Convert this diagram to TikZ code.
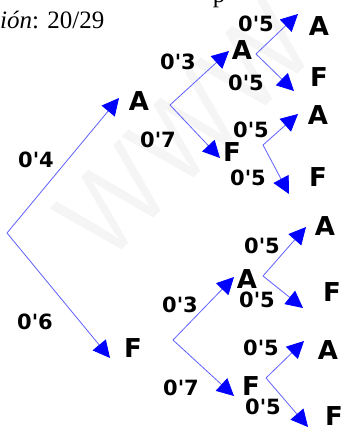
\documentclass[tikz,border=0pt]{standalone}
\usepackage{fontspec}
\setmainfont{Liberation Serif}
\newfontfamily\hand{DejaVu Sans}
\usetikzlibrary{arrows.meta}
\definecolor{ln}{RGB}{95,95,255}
\tikzset{
  br/.style={draw=ln, line width=0.8pt, -{Triangle[length=17pt,width=17pt,color=blue]}},
  lab/.style={font=\hand\bfseries\fontsize{21}{21}\selectfont, inner sep=0pt},
  res/.style={font=\hand\bfseries\fontsize{26}{26}\selectfont, inner sep=0pt},
}
\begin{document}
\begin{tikzpicture}[x=1pt,y=-1pt]
\useasboundingbox (0,0) rectangle (341,435);
\clip (0,0) rectangle (341,435);
% watermark
\node[rotate=45, text=black!4, font=\sffamily\fontsize{115}{115}\selectfont] (wm) at (185,130) {WWW};
% header fragments
\node[anchor=base west, inner sep=0pt, font=\fontsize{25}{25}\selectfont] (hdr) at (0,29) {\textit{ión}: 20/29};
\node[anchor=base, inner sep=0pt, font=\fontsize{25}{25}\selectfont] (hp) at (219,3) {p};
% level 1
\coordinate (r) at (7,233);
\node[res] (A1) at (139,101) {A};
\node[res] (F1) at (133,348) {F};
\coordinate (tA1) at (119,98);
\coordinate (tF1) at (110,358);
\draw[br] (r) -- (tA1);
\draw[br] (r) -- (tF1);
\node[lab] (l1) at (36,160) {0'4};
\node[lab] (l2) at (35,322) {0'6};
% level 2 upper
\coordinate (b1) at (170,105);
\node[res] (A2) at (242,50) {A};
\node[res] (F2) at (232,152) {F};
\coordinate (tA2) at (229,51);
\coordinate (tF2) at (220,158);
\draw[br] (b1) -- (tA2);
\draw[br] (b1) -- (tF2);
\node[lab] (l3) at (178,62) {0'3};
\node[lab] (l4) at (158,140) {0'7};
% level 2 lower
\coordinate (b2) at (173,340);
\node[res] (A3) at (247,279) {A};
\node[res] (F3) at (251,386) {F};
\coordinate (tA3) at (234,277);
\coordinate (tF3) at (234,396);
\draw[br] (b2) -- (tA3);
\draw[br] (b2) -- (tF3);
\node[lab] (l5) at (180,305) {0'3};
\node[lab] (l6) at (181,388) {0'7};
% level 3, from A2
\coordinate (c1) at (256,54);
\node[res] (A4) at (319,26) {A};
\node[res] (F4) at (319,77) {F};
\coordinate (tA4) at (298,14);
\coordinate (tF4) at (294,91);
\draw[br] (c1) -- (tA4);
\draw[br] (c1) -- (tF4);
\node[lab] (l7) at (256,24) {0'5};
\node[lab] (l8) at (246,83) {0'5};
% level 3, from F2
\coordinate (c2) at (263,145);
\node[res] (A5) at (318,115) {A};
\node[res] (F5) at (318,177) {F};
\coordinate (tA5) at (298,114);
\coordinate (tF5) at (289,194);
\draw[br] (c2) -- (tA5);
\draw[br] (c2) -- (tF5);
\node[lab] (l9) at (251,130) {0'5};
\node[lab] (l10) at (248,178) {0'5};
% level 3, from A3
\coordinate (c3) at (263,276);
\node[res] (A6) at (325,226) {A};
\node[res] (F6) at (332,292) {F};
\coordinate (tA6) at (306,227);
\coordinate (tF6) at (303,308);
\draw[br] (c3) -- (tA6);
\draw[br] (c3) -- (tF6);
\node[lab] (l11) at (262,246) {0'5};
\node[lab] (l12) at (257,300) {0'5};
% level 3, from F3
\coordinate (c4) at (266,378);
\node[res] (A7) at (328,350) {A};
\node[res] (F7) at (334,416) {F};
\coordinate (tA7) at (304,341);
\coordinate (tF7) at (308,427);
\draw[br] (c4) -- (tA7);
\draw[br] (c4) -- (tF7);
\node[lab] (l13) at (261,348) {0'5};
\node[lab] (l14) at (263,407) {0'5};
\end{tikzpicture}
\end{document}
